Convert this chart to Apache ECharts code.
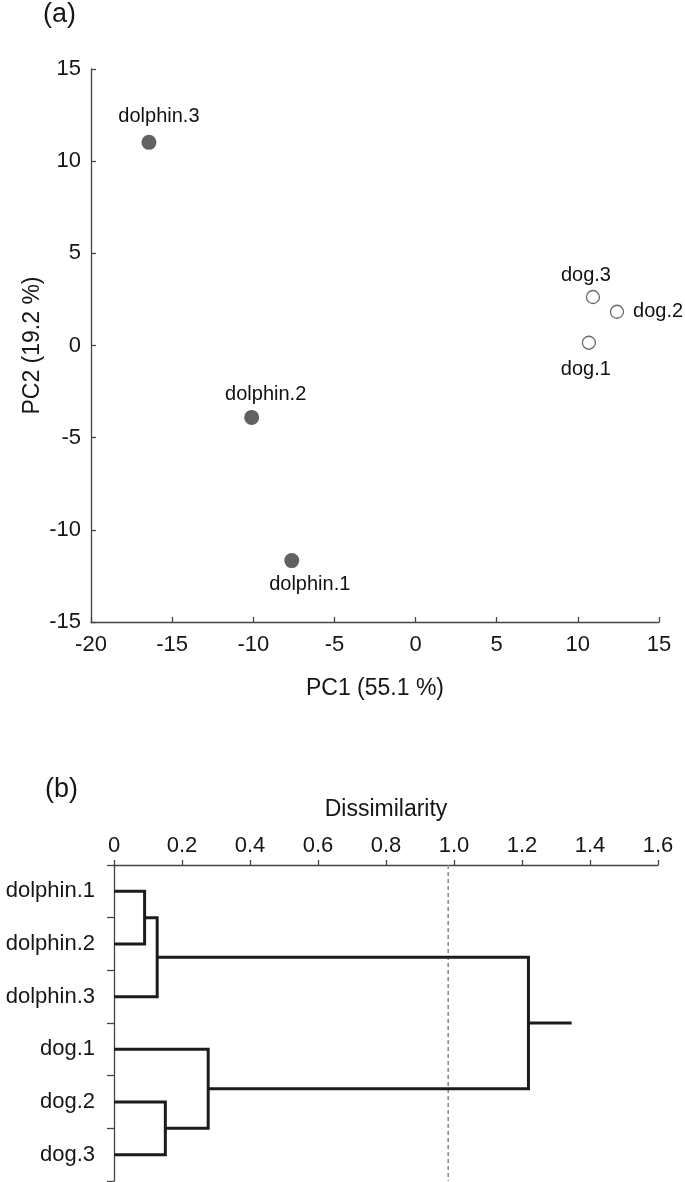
<!DOCTYPE html>
<html>
<head>
<meta charset="utf-8">
<script src="https://cdn.jsdelivr.net/npm/echarts@6/dist/echarts.min.js"></script>
<style>
html,body{margin:0;padding:0;background:#fff;}
#chart{width:685px;height:1182px;}
</style>
</head>
<body>
<div id="chart"></div>
<script>
// ---------- DATA ----------
// Panel (a): PCA scores
const dolphinNames = ['dolphin.1', 'dolphin.2', 'dolphin.3'];
const dolphinPC1 = [-7.63, -10.1, -16.43];
const dolphinPC2 = [-11.67, -3.9, 11.02];
const dogNames = ['dog.1', 'dog.2', 'dog.3'];
const dogPC1 = [10.68, 12.41, 10.93];
const dogPC2 = [0.15, 1.83, 2.63];
const pc1Ticks = [-20, -15, -10, -5, 0, 5, 10, 15];
const pc2Ticks = [-15, -10, -5, 0, 5, 10, 15];

// Panel (b): hierarchical clustering (merges like hclust; mN = result of merge N-1)
const leaves = ['dolphin.1', 'dolphin.2', 'dolphin.3', 'dog.1', 'dog.2', 'dog.3'];
const mergeLeft = ['dolphin.1', 'm1', 'dog.2', 'dog.1', 'm2'];
const mergeRight = ['dolphin.2', 'dolphin.3', 'dog.3', 'm3', 'm4'];
const mergeHeight = [0.09, 0.127, 0.151, 0.277, 1.219];
const rootStubEnd = 1.346;
const cutHeight = 0.983;
const dissimTicks = [0, 0.2, 0.4, 0.6, 0.8, 1.0, 1.2, 1.4, 1.6];

// ---------- STYLE ----------
const FONT = '"Liberation Sans", Arial, Helvetica, sans-serif';
const TXT = '#161616';
const AXC = '#444';
// label placement per point (style only)
const labelPlacement = {
  'dolphin.1': {position: 'inside', offset: [18, 24]},
  'dolphin.2': {position: 'inside', offset: [14, -23]},
  'dolphin.3': {position: 'inside', offset: [10, -26]},
  'dog.1': {position: 'inside', offset: [-3, 27]},
  'dog.2': {position: 'right', distance: 9, offset: [0, 0]},
  'dog.3': {position: 'inside', offset: [-7, -22]}
};

function pointData(names, xs, ys) {
  return names.map((n, i) => {
    const p = labelPlacement[n];
    return {
      name: n,
      value: [xs[i], ys[i]],
      label: Object.assign({
        show: true, formatter: n, color: '#111', fontSize: 20, fontFamily: FONT,
        textBorderWidth: 0, opacity: 1
      }, p)
    };
  });
}

// dendrogram node positions
const nodePos = {}; const nodeH = {};
leaves.forEach((l, i) => { nodePos[l] = i + 0.5; nodeH[l] = 0; });
const dendroSeries = [];
mergeHeight.forEach((h, k) => {
  const a = mergeLeft[k], b = mergeRight[k];
  const ya = nodePos[a], yb = nodePos[b];
  const id = 'm' + (k + 1);
  nodePos[id] = (ya + yb) / 2; nodeH[id] = h;
  dendroSeries.push({
    type: 'line', xAxisIndex: 1, yAxisIndex: 1, symbol: 'none', silent: true,
    lineStyle: {color: '#1c1c1c', width: 3, cap: 'butt', join: 'miter'},
    data: [[nodeH[a], ya], [h, ya], [h, yb], [nodeH[b], yb]],
    animation: false
  });
});
const rootId = 'm' + mergeHeight.length;
dendroSeries.push({
  type: 'line', xAxisIndex: 1, yAxisIndex: 1, symbol: 'none', silent: true,
  lineStyle: {color: '#1c1c1c', width: 3, cap: 'butt'},
  data: [[nodeH[rootId], nodePos[rootId]], [rootStubEnd, nodePos[rootId]]],
  animation: false
});

const chart = echarts.init(document.getElementById('chart'), null, {renderer: 'canvas'});

const axisLineStyle = {lineStyle: {color: AXC, width: 1.3}};

const option = {
  backgroundColor: '#fff',
  animation: false,
  textStyle: {fontFamily: FONT},
  grid: [
    {left: 91, top: 69, width: 568, height: 553},
    {left: 114, top: 865, width: 544, height: 316}
  ],
  xAxis: [
    {
      type: 'value', gridIndex: 0, min: pc1Ticks[0], max: pc1Ticks[pc1Ticks.length - 1], interval: 5,
      axisLine: Object.assign({show: true, onZero: false}, axisLineStyle),
      axisTick: {show: true, inside: true, length: 5, lineStyle: {color: AXC, width: 1.3}},
      axisLabel: {color: TXT, fontSize: 22, fontFamily: FONT, margin: 12},
      splitLine: {show: false},
      name: 'PC1 (55.1 %)', nameLocation: 'middle', nameGap: 55, nameMoveOverlap: false,
      nameTextStyle: {color: TXT, fontSize: 23, fontFamily: FONT}
    },
    {
      type: 'value', gridIndex: 1, position: 'top', min: 0, max: 1.6, interval: 0.2,
      axisLine: Object.assign({show: true, onZero: false}, axisLineStyle),
      axisTick: {show: true, inside: false, length: 5, lineStyle: {color: AXC, width: 1.3}},
      axisLabel: {color: TXT, fontSize: 22, fontFamily: FONT, margin: 8,
        formatter: v => (Math.abs(v) < 1e-9 ? '0' : v.toFixed(1))},
      splitLine: {show: false},
      name: 'Dissimilarity', nameLocation: 'middle', nameGap: 44, nameMoveOverlap: false,
      nameTextStyle: {color: TXT, fontSize: 23, fontFamily: FONT}
    }
  ],
  yAxis: [
    {
      type: 'value', gridIndex: 0, min: pc2Ticks[0], max: pc2Ticks[pc2Ticks.length - 1], interval: 5,
      axisLine: Object.assign({show: true, onZero: false}, axisLineStyle),
      axisTick: {show: true, inside: true, length: 5, lineStyle: {color: AXC, width: 1.3}},
      axisLabel: {color: TXT, fontSize: 22, fontFamily: FONT, margin: 10},
      splitLine: {show: false},
      name: 'PC2 (19.2 %)', nameLocation: 'middle', nameGap: 47, nameMoveOverlap: false,
      nameTextStyle: {color: TXT, fontSize: 23, fontFamily: FONT}
    },
    {
      type: 'value', gridIndex: 1, position: 'left', min: 0, max: leaves.length, interval: 1, inverse: true,
      axisLine: Object.assign({show: true, onZero: false}, axisLineStyle),
      axisTick: {show: true, inside: false, length: 7, lineStyle: {color: AXC, width: 1.3}},
      axisLabel: {show: false},
      splitLine: {show: false}
    },
    {
      type: 'category', gridIndex: 1, position: 'left', offset: 0, inverse: true, data: leaves,
      boundaryGap: true,
      axisLine: {show: false, onZero: false}, axisTick: {show: false},
      axisLabel: {color: TXT, fontSize: 22, fontFamily: FONT, margin: 19},
      splitLine: {show: false}
    }
  ],
  series: [
    {
      type: 'scatter', xAxisIndex: 0, yAxisIndex: 0, symbol: 'circle', symbolSize: 15,
      itemStyle: {color: '#3a3a3a'},
      data: pointData(dolphinNames, dolphinPC1, dolphinPC2)
    },
    {
      type: 'scatter', xAxisIndex: 0, yAxisIndex: 0, symbol: 'circle', symbolSize: 13,
      itemStyle: {color: '#fff', borderColor: '#444', borderWidth: 1.3},
      data: pointData(dogNames, dogPC1, dogPC2)
    },
    {
      type: 'line', xAxisIndex: 1, yAxisIndex: 1, symbol: 'none', silent: true,
      lineStyle: {color: '#8c8c8c', width: 1.6, type: [4, 3]},
      data: [[cutHeight, 0], [cutHeight, leaves.length]]
    }
  ].concat(dendroSeries),
  graphic: [
    {type: 'text', left: 43, top: 1, style: {text: '(a)', fontSize: 27, fontFamily: FONT, fill: TXT}},
    {type: 'text', left: 45, top: 776, style: {text: '(b)', fontSize: 27, fontFamily: FONT, fill: TXT}}
  ]
};
chart.setOption(option);
</script>
</body>
</html>
